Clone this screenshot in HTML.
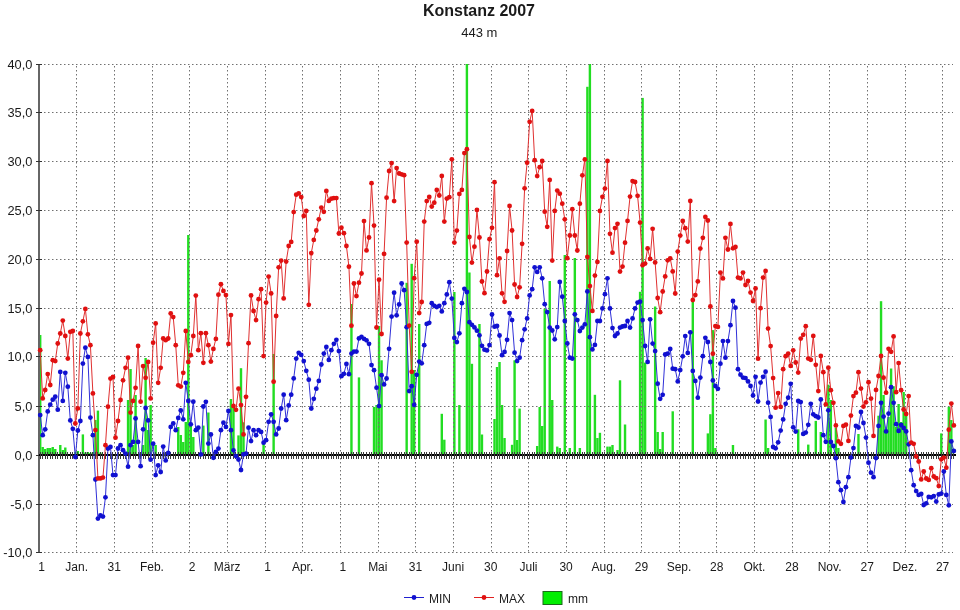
<!DOCTYPE html><html><head><meta charset="utf-8"><title>Konstanz 2007</title><style>html,body{margin:0;padding:0;background:#fff;width:960px;height:610px;overflow:hidden}svg{display:block}text{font-family:"Liberation Sans",Arial,sans-serif;fill:#1a1a1a}</style></head><body><svg width="960" height="610" viewBox="0 0 960 610"><rect width="960" height="610" fill="#fff"/><text x="479" y="16.2" text-anchor="middle" font-weight="bold" font-size="16">Konstanz 2007</text><text x="479.3" y="37.2" text-anchor="middle" font-size="13">443 m</text><g fill="#22dd22" stroke="none"><rect x="39.00" y="335.0" width="2.4" height="120.0"/><rect x="41.51" y="447.0" width="2.4" height="8.0"/><rect x="44.02" y="449.0" width="2.4" height="6.0"/><rect x="46.53" y="448.0" width="2.4" height="7.0"/><rect x="49.04" y="448.0" width="2.4" height="7.0"/><rect x="51.55" y="447.0" width="2.4" height="8.0"/><rect x="54.06" y="449.0" width="2.4" height="6.0"/><rect x="59.08" y="445.0" width="2.4" height="10.0"/><rect x="61.59" y="450.0" width="2.4" height="5.0"/><rect x="64.10" y="447.5" width="2.4" height="7.5"/><rect x="74.14" y="452.0" width="2.4" height="3.0"/><rect x="76.65" y="451.0" width="2.4" height="4.0"/><rect x="81.67" y="434.4" width="2.4" height="20.6"/><rect x="84.18" y="452.5" width="2.4" height="2.5"/><rect x="86.69" y="452.0" width="2.4" height="3.0"/><rect x="89.20" y="453.0" width="2.4" height="2.0"/><rect x="91.71" y="452.0" width="2.4" height="3.0"/><rect x="94.22" y="420.0" width="2.4" height="35.0"/><rect x="96.73" y="410.6" width="2.4" height="44.4"/><rect x="99.24" y="452.5" width="2.4" height="2.5"/><rect x="126.85" y="400.0" width="2.4" height="55.0"/><rect x="129.36" y="369.0" width="2.4" height="86.0"/><rect x="131.87" y="445.0" width="2.4" height="10.0"/><rect x="134.38" y="395.0" width="2.4" height="60.0"/><rect x="141.91" y="445.0" width="2.4" height="10.0"/><rect x="144.42" y="358.0" width="2.4" height="97.0"/><rect x="146.93" y="430.0" width="2.4" height="25.0"/><rect x="149.44" y="405.0" width="2.4" height="50.0"/><rect x="154.46" y="445.0" width="2.4" height="10.0"/><rect x="177.05" y="427.0" width="2.4" height="28.0"/><rect x="179.56" y="435.0" width="2.4" height="20.0"/><rect x="182.07" y="442.0" width="2.4" height="13.0"/><rect x="184.58" y="422.0" width="2.4" height="33.0"/><rect x="187.09" y="235.0" width="2.4" height="220.0"/><rect x="189.60" y="425.6" width="2.4" height="29.4"/><rect x="192.11" y="437.0" width="2.4" height="18.0"/><rect x="202.15" y="425.6" width="2.4" height="29.4"/><rect x="207.17" y="412.5" width="2.4" height="42.5"/><rect x="229.76" y="399.0" width="2.4" height="56.0"/><rect x="232.27" y="406.0" width="2.4" height="49.0"/><rect x="237.29" y="435.4" width="2.4" height="19.6"/><rect x="239.80" y="368.2" width="2.4" height="86.8"/><rect x="242.31" y="422.3" width="2.4" height="32.7"/><rect x="262.39" y="443.6" width="2.4" height="11.4"/><rect x="272.43" y="354.0" width="2.4" height="101.0"/><rect x="350.24" y="304.0" width="2.4" height="151.0"/><rect x="357.77" y="377.4" width="2.4" height="77.6"/><rect x="372.83" y="407.0" width="2.4" height="48.0"/><rect x="375.34" y="405.0" width="2.4" height="50.0"/><rect x="377.85" y="326.0" width="2.4" height="129.0"/><rect x="380.36" y="360.3" width="2.4" height="94.7"/><rect x="405.46" y="282.8" width="2.4" height="172.2"/><rect x="410.48" y="263.8" width="2.4" height="191.2"/><rect x="412.99" y="370.0" width="2.4" height="85.0"/><rect x="418.01" y="324.0" width="2.4" height="131.0"/><rect x="440.60" y="413.8" width="2.4" height="41.2"/><rect x="443.11" y="439.7" width="2.4" height="15.3"/><rect x="453.15" y="292.0" width="2.4" height="163.0"/><rect x="458.17" y="405.0" width="2.4" height="50.0"/><rect x="465.70" y="64.0" width="2.4" height="391.0"/><rect x="468.21" y="272.5" width="2.4" height="182.5"/><rect x="470.72" y="363.8" width="2.4" height="91.2"/><rect x="478.25" y="324.0" width="2.4" height="131.0"/><rect x="480.76" y="434.5" width="2.4" height="20.5"/><rect x="493.31" y="419.0" width="2.4" height="36.0"/><rect x="495.82" y="367.0" width="2.4" height="88.0"/><rect x="498.33" y="362.0" width="2.4" height="93.0"/><rect x="500.84" y="405.0" width="2.4" height="50.0"/><rect x="503.35" y="438.0" width="2.4" height="17.0"/><rect x="510.88" y="444.8" width="2.4" height="10.2"/><rect x="513.39" y="360.3" width="2.4" height="94.7"/><rect x="515.90" y="440.0" width="2.4" height="15.0"/><rect x="518.41" y="408.6" width="2.4" height="46.4"/><rect x="535.98" y="446.0" width="2.4" height="9.0"/><rect x="538.49" y="407.0" width="2.4" height="48.0"/><rect x="541.00" y="426.0" width="2.4" height="29.0"/><rect x="543.51" y="308.6" width="2.4" height="146.4"/><rect x="548.53" y="281.0" width="2.4" height="174.0"/><rect x="551.04" y="400.0" width="2.4" height="55.0"/><rect x="556.06" y="446.6" width="2.4" height="8.4"/><rect x="558.57" y="448.0" width="2.4" height="7.0"/><rect x="563.59" y="255.0" width="2.4" height="200.0"/><rect x="568.61" y="448.0" width="2.4" height="7.0"/><rect x="573.63" y="258.0" width="2.4" height="197.0"/><rect x="578.65" y="448.0" width="2.4" height="7.0"/><rect x="586.18" y="86.8" width="2.4" height="368.2"/><rect x="588.69" y="64.0" width="2.4" height="391.0"/><rect x="593.71" y="394.8" width="2.4" height="60.2"/><rect x="596.22" y="438.0" width="2.4" height="17.0"/><rect x="598.73" y="432.8" width="2.4" height="22.2"/><rect x="606.26" y="446.6" width="2.4" height="8.4"/><rect x="608.77" y="446.6" width="2.4" height="8.4"/><rect x="611.28" y="445.0" width="2.4" height="10.0"/><rect x="616.30" y="450.0" width="2.4" height="5.0"/><rect x="618.81" y="380.3" width="2.4" height="74.7"/><rect x="623.83" y="424.5" width="2.4" height="30.5"/><rect x="638.89" y="291.8" width="2.4" height="163.2"/><rect x="641.40" y="97.9" width="2.4" height="357.1"/><rect x="643.91" y="362.6" width="2.4" height="92.4"/><rect x="653.95" y="306.5" width="2.4" height="148.5"/><rect x="656.46" y="432.0" width="2.4" height="23.0"/><rect x="658.97" y="449.0" width="2.4" height="6.0"/><rect x="661.48" y="432.0" width="2.4" height="23.0"/><rect x="671.52" y="411.3" width="2.4" height="43.7"/><rect x="691.60" y="297.7" width="2.4" height="157.3"/><rect x="706.66" y="433.4" width="2.4" height="21.6"/><rect x="709.17" y="414.2" width="2.4" height="40.8"/><rect x="711.68" y="330.1" width="2.4" height="124.9"/><rect x="714.19" y="448.0" width="2.4" height="7.0"/><rect x="731.76" y="445.0" width="2.4" height="10.0"/><rect x="764.39" y="419.5" width="2.4" height="35.5"/><rect x="766.90" y="448.0" width="2.4" height="7.0"/><rect x="797.02" y="429.3" width="2.4" height="25.7"/><rect x="807.06" y="444.6" width="2.4" height="10.4"/><rect x="814.59" y="420.9" width="2.4" height="34.1"/><rect x="819.61" y="432.0" width="2.4" height="23.0"/><rect x="827.14" y="384.7" width="2.4" height="70.3"/><rect x="829.65" y="400.0" width="2.4" height="55.0"/><rect x="834.67" y="427.9" width="2.4" height="27.1"/><rect x="837.18" y="448.0" width="2.4" height="7.0"/><rect x="857.26" y="434.0" width="2.4" height="21.0"/><rect x="877.34" y="415.7" width="2.4" height="39.3"/><rect x="879.85" y="301.2" width="2.4" height="153.8"/><rect x="882.36" y="395.0" width="2.4" height="60.0"/><rect x="884.87" y="433.0" width="2.4" height="22.0"/><rect x="887.38" y="417.0" width="2.4" height="38.0"/><rect x="889.89" y="368.5" width="2.4" height="86.5"/><rect x="892.40" y="386.2" width="2.4" height="68.8"/><rect x="894.91" y="427.0" width="2.4" height="28.0"/><rect x="897.42" y="404.0" width="2.4" height="51.0"/><rect x="899.93" y="422.0" width="2.4" height="33.0"/><rect x="902.44" y="392.0" width="2.4" height="63.0"/><rect x="904.95" y="412.7" width="2.4" height="42.3"/><rect x="940.09" y="433.4" width="2.4" height="21.6"/><rect x="947.62" y="406.8" width="2.4" height="48.2"/><rect x="950.13" y="420.0" width="2.4" height="35.0"/></g><path d="M39 64.5H953M39 112.5H953M39 161.5H953M39 210.5H953M39 259.5H953M39 308.5H953M39 356.5H953M39 406.5H953M39 504.5H953M39 552.5H953" stroke="#707070" stroke-width="1" stroke-dasharray="1.5 2.5" stroke-dashoffset="3" fill="none"/><path d="M76.5 65V553M114.5 65V553M152.5 65V553M189.5 65V553M227.5 65V553M265.5 65V553M302.5 65V553M340.5 65V553M378.5 65V553M415.5 65V553M453.5 65V553M491.5 65V553M528.5 65V553M566.5 65V553M604.5 65V553M641.5 65V553M679.5 65V553M716.5 65V553M754.5 65V553M792.5 65V553M829.5 65V553M867.5 65V553M905.5 65V553M942.5 65V553" stroke="#707070" stroke-width="1" stroke-dasharray="1.5 2.5" stroke-dashoffset="3" fill="none"/><path d="M39 64V553" stroke="#666" stroke-width="2" fill="none"/><path d="M36 64.5H42M36 112.5H42M36 161.5H42M36 210.5H42M36 259.5H42M36 308.5H42M36 356.5H42M36 406.5H42M36 455.5H42M36 504.5H42M36 552.5H42" stroke="#333" stroke-width="1" fill="none"/><text x="32.4" y="69.0" text-anchor="end" font-size="12.8">40,0</text><text x="32.4" y="117.0" text-anchor="end" font-size="12.8">35,0</text><text x="32.4" y="166.0" text-anchor="end" font-size="12.8">30,0</text><text x="32.4" y="215.0" text-anchor="end" font-size="12.8">25,0</text><text x="32.4" y="264.0" text-anchor="end" font-size="12.8">20,0</text><text x="32.4" y="313.0" text-anchor="end" font-size="12.8">15,0</text><text x="32.4" y="361.0" text-anchor="end" font-size="12.8">10,0</text><text x="32.4" y="411.0" text-anchor="end" font-size="12.8">5,0</text><text x="32.4" y="460.0" text-anchor="end" font-size="12.8">0,0</text><text x="32.4" y="509.0" text-anchor="end" font-size="12.8">-5,0</text><text x="32.4" y="557.0" text-anchor="end" font-size="12.8">-10,0</text><path d="M39 455H956" stroke="#000" stroke-width="2" fill="none"/><path d="M40.5 452V459M42.5 452V459M45.5 452V459M47.5 452V459M50.5 452V459M52.5 452V459M55.5 452V459M57.5 452V459M60.5 452V459M62.5 452V459M65.5 452V459M67.5 452V459M70.5 452V459M72.5 452V459M75.5 452V459M77.5 452V459M80.5 452V459M82.5 452V459M85.5 452V459M87.5 452V459M90.5 452V459M92.5 452V459M95.5 452V459M97.5 452V459M100.5 452V459M102.5 452V459M105.5 452V459M107.5 452V459M110.5 452V459M112.5 452V459M115.5 452V459M118.5 452V459M120.5 452V459M123.5 452V459M125.5 452V459M128.5 452V459M130.5 452V459M133.5 452V459M135.5 452V459M138.5 452V459M140.5 452V459M143.5 452V459M145.5 452V459M148.5 452V459M150.5 452V459M153.5 452V459M155.5 452V459M158.5 452V459M160.5 452V459M163.5 452V459M165.5 452V459M168.5 452V459M170.5 452V459M173.5 452V459M175.5 452V459M178.5 452V459M180.5 452V459M183.5 452V459M185.5 452V459M188.5 452V459M190.5 452V459M193.5 452V459M195.5 452V459M198.5 452V459M200.5 452V459M203.5 452V459M205.5 452V459M208.5 452V459M210.5 452V459M213.5 452V459M215.5 452V459M218.5 452V459M220.5 452V459M223.5 452V459M225.5 452V459M228.5 452V459M230.5 452V459M233.5 452V459M235.5 452V459M238.5 452V459M241.5 452V459M243.5 452V459M246.5 452V459M248.5 452V459M251.5 452V459M253.5 452V459M256.5 452V459M258.5 452V459M261.5 452V459M263.5 452V459M266.5 452V459M268.5 452V459M271.5 452V459M273.5 452V459M276.5 452V459M278.5 452V459M281.5 452V459M283.5 452V459M286.5 452V459M288.5 452V459M291.5 452V459M293.5 452V459M296.5 452V459M298.5 452V459M301.5 452V459M303.5 452V459M306.5 452V459M308.5 452V459M311.5 452V459M313.5 452V459M316.5 452V459M318.5 452V459M321.5 452V459M323.5 452V459M326.5 452V459M328.5 452V459M331.5 452V459M333.5 452V459M336.5 452V459M338.5 452V459M341.5 452V459M343.5 452V459M346.5 452V459M348.5 452V459M351.5 452V459M353.5 452V459M356.5 452V459M358.5 452V459M361.5 452V459M363.5 452V459M366.5 452V459M369.5 452V459M371.5 452V459M374.5 452V459M376.5 452V459M379.5 452V459M381.5 452V459M384.5 452V459M386.5 452V459M389.5 452V459M391.5 452V459M394.5 452V459M396.5 452V459M399.5 452V459M401.5 452V459M404.5 452V459M406.5 452V459M409.5 452V459M411.5 452V459M414.5 452V459M416.5 452V459M419.5 452V459M421.5 452V459M424.5 452V459M426.5 452V459M429.5 452V459M431.5 452V459M434.5 452V459M436.5 452V459M439.5 452V459M441.5 452V459M444.5 452V459M446.5 452V459M449.5 452V459M451.5 452V459M454.5 452V459M456.5 452V459M459.5 452V459M461.5 452V459M464.5 452V459M466.5 452V459M469.5 452V459M471.5 452V459M474.5 452V459M476.5 452V459M479.5 452V459M481.5 452V459M484.5 452V459M486.5 452V459M489.5 452V459M491.5 452V459M494.5 452V459M497.5 452V459M499.5 452V459M502.5 452V459M504.5 452V459M507.5 452V459M509.5 452V459M512.5 452V459M514.5 452V459M517.5 452V459M519.5 452V459M522.5 452V459M524.5 452V459M527.5 452V459M529.5 452V459M532.5 452V459M534.5 452V459M537.5 452V459M539.5 452V459M542.5 452V459M544.5 452V459M547.5 452V459M549.5 452V459M552.5 452V459M554.5 452V459M557.5 452V459M559.5 452V459M562.5 452V459M564.5 452V459M567.5 452V459M569.5 452V459M572.5 452V459M574.5 452V459M577.5 452V459M579.5 452V459M582.5 452V459M584.5 452V459M587.5 452V459M589.5 452V459M592.5 452V459M594.5 452V459M597.5 452V459M599.5 452V459M602.5 452V459M604.5 452V459M607.5 452V459M609.5 452V459M612.5 452V459M614.5 452V459M617.5 452V459M620.5 452V459M622.5 452V459M625.5 452V459M627.5 452V459M630.5 452V459M632.5 452V459M635.5 452V459M637.5 452V459M640.5 452V459M642.5 452V459M645.5 452V459M647.5 452V459M650.5 452V459M652.5 452V459M655.5 452V459M657.5 452V459M660.5 452V459M662.5 452V459M665.5 452V459M667.5 452V459M670.5 452V459M672.5 452V459M675.5 452V459M677.5 452V459M680.5 452V459M682.5 452V459M685.5 452V459M687.5 452V459M690.5 452V459M692.5 452V459M695.5 452V459M697.5 452V459M700.5 452V459M702.5 452V459M705.5 452V459M707.5 452V459M710.5 452V459M712.5 452V459M715.5 452V459M717.5 452V459M720.5 452V459M722.5 452V459M725.5 452V459M727.5 452V459M730.5 452V459M732.5 452V459M735.5 452V459M737.5 452V459M740.5 452V459M743.5 452V459M745.5 452V459M748.5 452V459M750.5 452V459M753.5 452V459M755.5 452V459M758.5 452V459M760.5 452V459M763.5 452V459M765.5 452V459M768.5 452V459M770.5 452V459M773.5 452V459M775.5 452V459M778.5 452V459M780.5 452V459M783.5 452V459M785.5 452V459M788.5 452V459M790.5 452V459M793.5 452V459M795.5 452V459M798.5 452V459M800.5 452V459M803.5 452V459M805.5 452V459M808.5 452V459M810.5 452V459M813.5 452V459M815.5 452V459M818.5 452V459M820.5 452V459M823.5 452V459M825.5 452V459M828.5 452V459M830.5 452V459M833.5 452V459M835.5 452V459M838.5 452V459M840.5 452V459M843.5 452V459M845.5 452V459M848.5 452V459M850.5 452V459M853.5 452V459M855.5 452V459M858.5 452V459M860.5 452V459M863.5 452V459M865.5 452V459M868.5 452V459M871.5 452V459M873.5 452V459M876.5 452V459M878.5 452V459M881.5 452V459M883.5 452V459M886.5 452V459M888.5 452V459M891.5 452V459M893.5 452V459M896.5 452V459M898.5 452V459M901.5 452V459M903.5 452V459M906.5 452V459M908.5 452V459M911.5 452V459M913.5 452V459M916.5 452V459M918.5 452V459M921.5 452V459M923.5 452V459M926.5 452V459M928.5 452V459M931.5 452V459M933.5 452V459M936.5 452V459M938.5 452V459M941.5 452V459M943.5 452V459M946.5 452V459M948.5 452V459M951.5 452V459M953.5 452V459" stroke="#3a3a3a" stroke-width="1" fill="none"/><text x="41.6" y="571" text-anchor="middle" font-size="12">1</text><text x="76.7" y="571" text-anchor="middle" font-size="12">Jan.</text><text x="114.3" y="571" text-anchor="middle" font-size="12">31</text><text x="151.9" y="571" text-anchor="middle" font-size="12">Feb.</text><text x="192.2" y="571" text-anchor="middle" font-size="12">2</text><text x="227.2" y="571" text-anchor="middle" font-size="12">März</text><text x="267.5" y="571" text-anchor="middle" font-size="12">1</text><text x="302.6" y="571" text-anchor="middle" font-size="12">Apr.</text><text x="342.8" y="571" text-anchor="middle" font-size="12">1</text><text x="377.8" y="571" text-anchor="middle" font-size="12">Mai</text><text x="415.5" y="571" text-anchor="middle" font-size="12">31</text><text x="453.1" y="571" text-anchor="middle" font-size="12">Juni</text><text x="490.8" y="571" text-anchor="middle" font-size="12">30</text><text x="528.5" y="571" text-anchor="middle" font-size="12">Juli</text><text x="566.1" y="571" text-anchor="middle" font-size="12">30</text><text x="603.8" y="571" text-anchor="middle" font-size="12">Aug.</text><text x="641.4" y="571" text-anchor="middle" font-size="12">29</text><text x="679.0" y="571" text-anchor="middle" font-size="12">Sep.</text><text x="716.7" y="571" text-anchor="middle" font-size="12">28</text><text x="754.4" y="571" text-anchor="middle" font-size="12">Okt.</text><text x="792.0" y="571" text-anchor="middle" font-size="12">28</text><text x="829.6" y="571" text-anchor="middle" font-size="12">Nov.</text><text x="867.3" y="571" text-anchor="middle" font-size="12">27</text><text x="904.9" y="571" text-anchor="middle" font-size="12">Dez.</text><text x="942.6" y="571" text-anchor="middle" font-size="12">27</text><path d="M40.20 415.1 L42.71 435.2 L45.22 429.3 L47.73 411.4 L50.24 404.7 L52.75 399.7 L55.26 396.7 L57.77 409.7 L60.28 371.9 L62.79 400.9 L65.30 372.8 L67.81 386.7 L70.32 420.4 L72.83 428.8 L75.34 457.0 L77.85 430.5 L80.36 421.0 L82.87 363.6 L85.38 347.7 L87.89 356.9 L90.40 417.6 L92.91 435.2 L95.42 479.5 L97.93 518.6 L100.44 515.5 L102.95 516.6 L105.46 497.3 L107.97 448.5 L110.48 446.9 L112.99 475.1 L115.50 475.1 L118.01 448.5 L120.52 445.2 L123.03 450.2 L125.54 453.6 L128.05 466.7 L130.56 445.2 L133.07 441.9 L135.58 418.4 L138.09 441.9 L140.60 466.2 L143.11 429.3 L145.62 408.0 L148.13 420.4 L150.64 459.7 L153.15 443.7 L155.66 475.1 L158.17 465.3 L160.68 472.0 L163.19 446.6 L165.70 460.4 L168.21 453.0 L170.72 426.9 L173.23 423.4 L175.74 430.2 L178.25 417.9 L180.76 410.5 L183.27 419.3 L185.78 382.8 L188.29 400.9 L190.80 424.3 L193.31 401.7 L195.82 430.2 L198.33 427.7 L200.84 454.4 L203.35 406.5 L205.86 401.8 L208.37 443.6 L210.88 434.4 L213.39 457.8 L215.90 451.9 L218.41 448.6 L220.92 430.2 L223.43 422.7 L225.94 426.9 L228.45 411.0 L230.96 430.2 L233.47 450.3 L235.98 456.1 L238.49 459.5 L241.00 470.0 L243.51 454.4 L246.02 453.6 L248.53 427.7 L251.04 441.1 L253.55 430.2 L256.06 435.2 L258.57 430.2 L261.08 431.9 L263.59 442.7 L266.10 440.2 L268.61 421.8 L271.12 414.3 L273.63 421.8 L276.14 434.4 L278.65 428.5 L281.16 408.5 L283.67 394.7 L286.18 420.2 L288.69 405.4 L291.20 394.7 L293.71 378.4 L296.22 358.6 L298.73 352.8 L301.24 354.9 L303.75 361.1 L306.26 370.8 L308.77 379.7 L311.28 408.5 L313.79 398.8 L316.30 388.7 L318.81 380.9 L321.32 364.5 L323.83 353.6 L326.34 346.9 L328.85 359.9 L331.36 350.2 L333.87 343.8 L336.38 339.8 L338.89 351.1 L341.40 376.2 L343.91 373.8 L346.42 363.9 L348.93 374.2 L351.44 353.6 L353.95 351.6 L356.46 351.6 L358.97 338.4 L361.48 336.9 L363.99 338.8 L366.50 340.3 L369.01 343.8 L371.52 365.1 L374.03 370.2 L376.54 387.7 L379.05 406.1 L381.56 375.2 L384.07 384.4 L386.58 378.5 L389.09 348.8 L391.60 316.6 L394.11 292.7 L396.62 315.3 L399.13 304.4 L401.64 283.5 L404.15 290.2 L406.66 327.2 L409.17 391.1 L411.68 386.2 L414.19 404.8 L416.70 374.8 L419.21 361.6 L421.72 363.3 L424.23 345.2 L426.74 323.9 L429.25 322.8 L431.76 303.2 L434.27 305.8 L436.78 307.1 L439.29 305.8 L441.80 311.4 L444.31 303.2 L446.82 294.4 L449.33 282.2 L451.84 298.6 L454.35 337.9 L456.86 342.1 L459.37 333.3 L461.88 303.2 L464.39 288.8 L466.90 292.0 L469.41 322.2 L471.92 324.8 L474.43 327.4 L476.94 330.7 L479.45 335.3 L481.96 345.8 L484.47 349.7 L486.98 350.4 L489.49 345.1 L492.00 314.5 L494.51 326.7 L497.02 326.0 L499.53 335.5 L502.04 355.2 L504.55 351.9 L507.06 339.8 L509.57 313.1 L512.08 320.1 L514.59 352.7 L517.10 361.1 L519.61 357.7 L522.12 340.2 L524.63 329.3 L527.14 318.4 L529.65 295.4 L532.16 289.2 L534.67 267.3 L537.18 271.9 L539.69 267.3 L542.20 278.3 L544.71 304.2 L547.22 312.1 L549.73 327.6 L552.24 330.5 L554.75 339.3 L557.26 327.1 L559.77 282.0 L562.28 296.7 L564.79 321.0 L567.30 343.5 L569.81 357.7 L572.32 358.6 L574.83 314.3 L577.34 320.1 L579.85 331.0 L582.36 327.6 L584.87 324.3 L587.38 291.4 L589.89 337.2 L592.40 349.4 L594.91 344.9 L597.42 321.0 L599.93 321.0 L602.44 308.4 L604.95 294.2 L607.46 278.3 L609.97 308.4 L612.48 328.1 L614.99 336.0 L617.50 333.5 L620.01 327.6 L622.52 326.5 L625.03 326.0 L627.54 321.0 L630.05 327.6 L632.56 318.4 L635.07 308.4 L637.58 302.6 L640.09 301.7 L642.60 320.1 L645.11 346.0 L647.62 361.9 L650.13 319.3 L652.64 343.6 L655.15 351.1 L657.66 383.7 L660.17 398.8 L662.68 394.8 L665.19 354.5 L667.70 353.7 L670.21 349.0 L672.72 368.7 L675.23 369.2 L677.74 381.4 L680.25 370.1 L682.76 356.3 L685.27 336.1 L687.78 352.9 L690.29 332.3 L692.80 370.9 L695.31 380.9 L697.82 397.7 L700.33 377.6 L702.84 356.2 L705.35 337.8 L707.86 342.0 L710.37 362.0 L712.88 380.4 L715.39 386.0 L717.90 388.8 L720.41 363.7 L722.92 341.1 L725.43 357.7 L727.94 341.1 L730.45 325.2 L732.96 301.0 L735.47 307.7 L737.98 369.2 L740.49 374.7 L743.00 377.6 L745.51 378.1 L748.02 381.4 L750.53 386.0 L753.04 395.5 L755.55 376.8 L758.06 401.5 L760.57 382.6 L763.08 376.8 L765.59 371.7 L768.10 402.7 L770.61 416.9 L773.12 447.0 L775.63 448.3 L778.14 442.3 L780.65 430.6 L783.16 419.4 L785.67 403.8 L788.18 397.7 L790.69 383.8 L793.20 427.3 L795.71 431.6 L798.22 401.0 L800.73 402.1 L803.24 433.9 L805.75 432.6 L808.26 424.8 L810.77 403.8 L813.28 414.3 L815.79 416.2 L818.30 417.5 L820.81 399.4 L823.32 435.2 L825.83 441.8 L828.34 410.3 L830.85 442.0 L833.36 446.0 L835.87 458.2 L838.38 482.2 L840.89 490.2 L843.40 502.0 L845.91 487.2 L848.42 477.2 L850.93 457.6 L853.44 448.1 L855.95 425.9 L858.46 427.5 L860.97 412.0 L863.48 423.0 L865.99 437.6 L868.50 462.7 L871.01 472.7 L873.52 477.2 L876.03 458.1 L878.54 425.9 L881.05 402.8 L883.56 416.6 L886.07 431.4 L888.58 413.6 L891.09 387.2 L893.60 402.8 L896.11 424.2 L898.62 430.9 L901.13 425.0 L903.64 428.0 L906.15 431.4 L908.66 444.3 L911.17 470.2 L913.68 485.2 L916.19 491.1 L918.70 494.9 L921.21 493.9 L923.72 505.0 L926.23 503.3 L928.74 496.9 L931.25 497.3 L933.76 496.1 L936.27 501.6 L938.78 494.4 L941.29 493.6 L943.80 471.5 L946.31 494.9 L948.82 505.3 L951.33 441.4 L953.84 451.0" stroke="#3030d8" stroke-width="1" fill="none"/><g fill="#1010d0"><circle cx="40.20" cy="415.1" r="2.4"/><circle cx="42.71" cy="435.2" r="2.4"/><circle cx="45.22" cy="429.3" r="2.4"/><circle cx="47.73" cy="411.4" r="2.4"/><circle cx="50.24" cy="404.7" r="2.4"/><circle cx="52.75" cy="399.7" r="2.4"/><circle cx="55.26" cy="396.7" r="2.4"/><circle cx="57.77" cy="409.7" r="2.4"/><circle cx="60.28" cy="371.9" r="2.4"/><circle cx="62.79" cy="400.9" r="2.4"/><circle cx="65.30" cy="372.8" r="2.4"/><circle cx="67.81" cy="386.7" r="2.4"/><circle cx="70.32" cy="420.4" r="2.4"/><circle cx="72.83" cy="428.8" r="2.4"/><circle cx="75.34" cy="457.0" r="2.4"/><circle cx="77.85" cy="430.5" r="2.4"/><circle cx="80.36" cy="421.0" r="2.4"/><circle cx="82.87" cy="363.6" r="2.4"/><circle cx="85.38" cy="347.7" r="2.4"/><circle cx="87.89" cy="356.9" r="2.4"/><circle cx="90.40" cy="417.6" r="2.4"/><circle cx="92.91" cy="435.2" r="2.4"/><circle cx="95.42" cy="479.5" r="2.4"/><circle cx="97.93" cy="518.6" r="2.4"/><circle cx="100.44" cy="515.5" r="2.4"/><circle cx="102.95" cy="516.6" r="2.4"/><circle cx="105.46" cy="497.3" r="2.4"/><circle cx="107.97" cy="448.5" r="2.4"/><circle cx="110.48" cy="446.9" r="2.4"/><circle cx="112.99" cy="475.1" r="2.4"/><circle cx="115.50" cy="475.1" r="2.4"/><circle cx="118.01" cy="448.5" r="2.4"/><circle cx="120.52" cy="445.2" r="2.4"/><circle cx="123.03" cy="450.2" r="2.4"/><circle cx="125.54" cy="453.6" r="2.4"/><circle cx="128.05" cy="466.7" r="2.4"/><circle cx="130.56" cy="445.2" r="2.4"/><circle cx="133.07" cy="441.9" r="2.4"/><circle cx="135.58" cy="418.4" r="2.4"/><circle cx="138.09" cy="441.9" r="2.4"/><circle cx="140.60" cy="466.2" r="2.4"/><circle cx="143.11" cy="429.3" r="2.4"/><circle cx="145.62" cy="408.0" r="2.4"/><circle cx="148.13" cy="420.4" r="2.4"/><circle cx="150.64" cy="459.7" r="2.4"/><circle cx="153.15" cy="443.7" r="2.4"/><circle cx="155.66" cy="475.1" r="2.4"/><circle cx="158.17" cy="465.3" r="2.4"/><circle cx="160.68" cy="472.0" r="2.4"/><circle cx="163.19" cy="446.6" r="2.4"/><circle cx="165.70" cy="460.4" r="2.4"/><circle cx="168.21" cy="453.0" r="2.4"/><circle cx="170.72" cy="426.9" r="2.4"/><circle cx="173.23" cy="423.4" r="2.4"/><circle cx="175.74" cy="430.2" r="2.4"/><circle cx="178.25" cy="417.9" r="2.4"/><circle cx="180.76" cy="410.5" r="2.4"/><circle cx="183.27" cy="419.3" r="2.4"/><circle cx="185.78" cy="382.8" r="2.4"/><circle cx="188.29" cy="400.9" r="2.4"/><circle cx="190.80" cy="424.3" r="2.4"/><circle cx="193.31" cy="401.7" r="2.4"/><circle cx="195.82" cy="430.2" r="2.4"/><circle cx="198.33" cy="427.7" r="2.4"/><circle cx="200.84" cy="454.4" r="2.4"/><circle cx="203.35" cy="406.5" r="2.4"/><circle cx="205.86" cy="401.8" r="2.4"/><circle cx="208.37" cy="443.6" r="2.4"/><circle cx="210.88" cy="434.4" r="2.4"/><circle cx="213.39" cy="457.8" r="2.4"/><circle cx="215.90" cy="451.9" r="2.4"/><circle cx="218.41" cy="448.6" r="2.4"/><circle cx="220.92" cy="430.2" r="2.4"/><circle cx="223.43" cy="422.7" r="2.4"/><circle cx="225.94" cy="426.9" r="2.4"/><circle cx="228.45" cy="411.0" r="2.4"/><circle cx="230.96" cy="430.2" r="2.4"/><circle cx="233.47" cy="450.3" r="2.4"/><circle cx="235.98" cy="456.1" r="2.4"/><circle cx="238.49" cy="459.5" r="2.4"/><circle cx="241.00" cy="470.0" r="2.4"/><circle cx="243.51" cy="454.4" r="2.4"/><circle cx="246.02" cy="453.6" r="2.4"/><circle cx="248.53" cy="427.7" r="2.4"/><circle cx="251.04" cy="441.1" r="2.4"/><circle cx="253.55" cy="430.2" r="2.4"/><circle cx="256.06" cy="435.2" r="2.4"/><circle cx="258.57" cy="430.2" r="2.4"/><circle cx="261.08" cy="431.9" r="2.4"/><circle cx="263.59" cy="442.7" r="2.4"/><circle cx="266.10" cy="440.2" r="2.4"/><circle cx="268.61" cy="421.8" r="2.4"/><circle cx="271.12" cy="414.3" r="2.4"/><circle cx="273.63" cy="421.8" r="2.4"/><circle cx="276.14" cy="434.4" r="2.4"/><circle cx="278.65" cy="428.5" r="2.4"/><circle cx="281.16" cy="408.5" r="2.4"/><circle cx="283.67" cy="394.7" r="2.4"/><circle cx="286.18" cy="420.2" r="2.4"/><circle cx="288.69" cy="405.4" r="2.4"/><circle cx="291.20" cy="394.7" r="2.4"/><circle cx="293.71" cy="378.4" r="2.4"/><circle cx="296.22" cy="358.6" r="2.4"/><circle cx="298.73" cy="352.8" r="2.4"/><circle cx="301.24" cy="354.9" r="2.4"/><circle cx="303.75" cy="361.1" r="2.4"/><circle cx="306.26" cy="370.8" r="2.4"/><circle cx="308.77" cy="379.7" r="2.4"/><circle cx="311.28" cy="408.5" r="2.4"/><circle cx="313.79" cy="398.8" r="2.4"/><circle cx="316.30" cy="388.7" r="2.4"/><circle cx="318.81" cy="380.9" r="2.4"/><circle cx="321.32" cy="364.5" r="2.4"/><circle cx="323.83" cy="353.6" r="2.4"/><circle cx="326.34" cy="346.9" r="2.4"/><circle cx="328.85" cy="359.9" r="2.4"/><circle cx="331.36" cy="350.2" r="2.4"/><circle cx="333.87" cy="343.8" r="2.4"/><circle cx="336.38" cy="339.8" r="2.4"/><circle cx="338.89" cy="351.1" r="2.4"/><circle cx="341.40" cy="376.2" r="2.4"/><circle cx="343.91" cy="373.8" r="2.4"/><circle cx="346.42" cy="363.9" r="2.4"/><circle cx="348.93" cy="374.2" r="2.4"/><circle cx="351.44" cy="353.6" r="2.4"/><circle cx="353.95" cy="351.6" r="2.4"/><circle cx="356.46" cy="351.6" r="2.4"/><circle cx="358.97" cy="338.4" r="2.4"/><circle cx="361.48" cy="336.9" r="2.4"/><circle cx="363.99" cy="338.8" r="2.4"/><circle cx="366.50" cy="340.3" r="2.4"/><circle cx="369.01" cy="343.8" r="2.4"/><circle cx="371.52" cy="365.1" r="2.4"/><circle cx="374.03" cy="370.2" r="2.4"/><circle cx="376.54" cy="387.7" r="2.4"/><circle cx="379.05" cy="406.1" r="2.4"/><circle cx="381.56" cy="375.2" r="2.4"/><circle cx="384.07" cy="384.4" r="2.4"/><circle cx="386.58" cy="378.5" r="2.4"/><circle cx="389.09" cy="348.8" r="2.4"/><circle cx="391.60" cy="316.6" r="2.4"/><circle cx="394.11" cy="292.7" r="2.4"/><circle cx="396.62" cy="315.3" r="2.4"/><circle cx="399.13" cy="304.4" r="2.4"/><circle cx="401.64" cy="283.5" r="2.4"/><circle cx="404.15" cy="290.2" r="2.4"/><circle cx="406.66" cy="327.2" r="2.4"/><circle cx="409.17" cy="391.1" r="2.4"/><circle cx="411.68" cy="386.2" r="2.4"/><circle cx="414.19" cy="404.8" r="2.4"/><circle cx="416.70" cy="374.8" r="2.4"/><circle cx="419.21" cy="361.6" r="2.4"/><circle cx="421.72" cy="363.3" r="2.4"/><circle cx="424.23" cy="345.2" r="2.4"/><circle cx="426.74" cy="323.9" r="2.4"/><circle cx="429.25" cy="322.8" r="2.4"/><circle cx="431.76" cy="303.2" r="2.4"/><circle cx="434.27" cy="305.8" r="2.4"/><circle cx="436.78" cy="307.1" r="2.4"/><circle cx="439.29" cy="305.8" r="2.4"/><circle cx="441.80" cy="311.4" r="2.4"/><circle cx="444.31" cy="303.2" r="2.4"/><circle cx="446.82" cy="294.4" r="2.4"/><circle cx="449.33" cy="282.2" r="2.4"/><circle cx="451.84" cy="298.6" r="2.4"/><circle cx="454.35" cy="337.9" r="2.4"/><circle cx="456.86" cy="342.1" r="2.4"/><circle cx="459.37" cy="333.3" r="2.4"/><circle cx="461.88" cy="303.2" r="2.4"/><circle cx="464.39" cy="288.8" r="2.4"/><circle cx="466.90" cy="292.0" r="2.4"/><circle cx="469.41" cy="322.2" r="2.4"/><circle cx="471.92" cy="324.8" r="2.4"/><circle cx="474.43" cy="327.4" r="2.4"/><circle cx="476.94" cy="330.7" r="2.4"/><circle cx="479.45" cy="335.3" r="2.4"/><circle cx="481.96" cy="345.8" r="2.4"/><circle cx="484.47" cy="349.7" r="2.4"/><circle cx="486.98" cy="350.4" r="2.4"/><circle cx="489.49" cy="345.1" r="2.4"/><circle cx="492.00" cy="314.5" r="2.4"/><circle cx="494.51" cy="326.7" r="2.4"/><circle cx="497.02" cy="326.0" r="2.4"/><circle cx="499.53" cy="335.5" r="2.4"/><circle cx="502.04" cy="355.2" r="2.4"/><circle cx="504.55" cy="351.9" r="2.4"/><circle cx="507.06" cy="339.8" r="2.4"/><circle cx="509.57" cy="313.1" r="2.4"/><circle cx="512.08" cy="320.1" r="2.4"/><circle cx="514.59" cy="352.7" r="2.4"/><circle cx="517.10" cy="361.1" r="2.4"/><circle cx="519.61" cy="357.7" r="2.4"/><circle cx="522.12" cy="340.2" r="2.4"/><circle cx="524.63" cy="329.3" r="2.4"/><circle cx="527.14" cy="318.4" r="2.4"/><circle cx="529.65" cy="295.4" r="2.4"/><circle cx="532.16" cy="289.2" r="2.4"/><circle cx="534.67" cy="267.3" r="2.4"/><circle cx="537.18" cy="271.9" r="2.4"/><circle cx="539.69" cy="267.3" r="2.4"/><circle cx="542.20" cy="278.3" r="2.4"/><circle cx="544.71" cy="304.2" r="2.4"/><circle cx="547.22" cy="312.1" r="2.4"/><circle cx="549.73" cy="327.6" r="2.4"/><circle cx="552.24" cy="330.5" r="2.4"/><circle cx="554.75" cy="339.3" r="2.4"/><circle cx="557.26" cy="327.1" r="2.4"/><circle cx="559.77" cy="282.0" r="2.4"/><circle cx="562.28" cy="296.7" r="2.4"/><circle cx="564.79" cy="321.0" r="2.4"/><circle cx="567.30" cy="343.5" r="2.4"/><circle cx="569.81" cy="357.7" r="2.4"/><circle cx="572.32" cy="358.6" r="2.4"/><circle cx="574.83" cy="314.3" r="2.4"/><circle cx="577.34" cy="320.1" r="2.4"/><circle cx="579.85" cy="331.0" r="2.4"/><circle cx="582.36" cy="327.6" r="2.4"/><circle cx="584.87" cy="324.3" r="2.4"/><circle cx="587.38" cy="291.4" r="2.4"/><circle cx="589.89" cy="337.2" r="2.4"/><circle cx="592.40" cy="349.4" r="2.4"/><circle cx="594.91" cy="344.9" r="2.4"/><circle cx="597.42" cy="321.0" r="2.4"/><circle cx="599.93" cy="321.0" r="2.4"/><circle cx="602.44" cy="308.4" r="2.4"/><circle cx="604.95" cy="294.2" r="2.4"/><circle cx="607.46" cy="278.3" r="2.4"/><circle cx="609.97" cy="308.4" r="2.4"/><circle cx="612.48" cy="328.1" r="2.4"/><circle cx="614.99" cy="336.0" r="2.4"/><circle cx="617.50" cy="333.5" r="2.4"/><circle cx="620.01" cy="327.6" r="2.4"/><circle cx="622.52" cy="326.5" r="2.4"/><circle cx="625.03" cy="326.0" r="2.4"/><circle cx="627.54" cy="321.0" r="2.4"/><circle cx="630.05" cy="327.6" r="2.4"/><circle cx="632.56" cy="318.4" r="2.4"/><circle cx="635.07" cy="308.4" r="2.4"/><circle cx="637.58" cy="302.6" r="2.4"/><circle cx="640.09" cy="301.7" r="2.4"/><circle cx="642.60" cy="320.1" r="2.4"/><circle cx="645.11" cy="346.0" r="2.4"/><circle cx="647.62" cy="361.9" r="2.4"/><circle cx="650.13" cy="319.3" r="2.4"/><circle cx="652.64" cy="343.6" r="2.4"/><circle cx="655.15" cy="351.1" r="2.4"/><circle cx="657.66" cy="383.7" r="2.4"/><circle cx="660.17" cy="398.8" r="2.4"/><circle cx="662.68" cy="394.8" r="2.4"/><circle cx="665.19" cy="354.5" r="2.4"/><circle cx="667.70" cy="353.7" r="2.4"/><circle cx="670.21" cy="349.0" r="2.4"/><circle cx="672.72" cy="368.7" r="2.4"/><circle cx="675.23" cy="369.2" r="2.4"/><circle cx="677.74" cy="381.4" r="2.4"/><circle cx="680.25" cy="370.1" r="2.4"/><circle cx="682.76" cy="356.3" r="2.4"/><circle cx="685.27" cy="336.1" r="2.4"/><circle cx="687.78" cy="352.9" r="2.4"/><circle cx="690.29" cy="332.3" r="2.4"/><circle cx="692.80" cy="370.9" r="2.4"/><circle cx="695.31" cy="380.9" r="2.4"/><circle cx="697.82" cy="397.7" r="2.4"/><circle cx="700.33" cy="377.6" r="2.4"/><circle cx="702.84" cy="356.2" r="2.4"/><circle cx="705.35" cy="337.8" r="2.4"/><circle cx="707.86" cy="342.0" r="2.4"/><circle cx="710.37" cy="362.0" r="2.4"/><circle cx="712.88" cy="380.4" r="2.4"/><circle cx="715.39" cy="386.0" r="2.4"/><circle cx="717.90" cy="388.8" r="2.4"/><circle cx="720.41" cy="363.7" r="2.4"/><circle cx="722.92" cy="341.1" r="2.4"/><circle cx="725.43" cy="357.7" r="2.4"/><circle cx="727.94" cy="341.1" r="2.4"/><circle cx="730.45" cy="325.2" r="2.4"/><circle cx="732.96" cy="301.0" r="2.4"/><circle cx="735.47" cy="307.7" r="2.4"/><circle cx="737.98" cy="369.2" r="2.4"/><circle cx="740.49" cy="374.7" r="2.4"/><circle cx="743.00" cy="377.6" r="2.4"/><circle cx="745.51" cy="378.1" r="2.4"/><circle cx="748.02" cy="381.4" r="2.4"/><circle cx="750.53" cy="386.0" r="2.4"/><circle cx="753.04" cy="395.5" r="2.4"/><circle cx="755.55" cy="376.8" r="2.4"/><circle cx="758.06" cy="401.5" r="2.4"/><circle cx="760.57" cy="382.6" r="2.4"/><circle cx="763.08" cy="376.8" r="2.4"/><circle cx="765.59" cy="371.7" r="2.4"/><circle cx="768.10" cy="402.7" r="2.4"/><circle cx="770.61" cy="416.9" r="2.4"/><circle cx="773.12" cy="447.0" r="2.4"/><circle cx="775.63" cy="448.3" r="2.4"/><circle cx="778.14" cy="442.3" r="2.4"/><circle cx="780.65" cy="430.6" r="2.4"/><circle cx="783.16" cy="419.4" r="2.4"/><circle cx="785.67" cy="403.8" r="2.4"/><circle cx="788.18" cy="397.7" r="2.4"/><circle cx="790.69" cy="383.8" r="2.4"/><circle cx="793.20" cy="427.3" r="2.4"/><circle cx="795.71" cy="431.6" r="2.4"/><circle cx="798.22" cy="401.0" r="2.4"/><circle cx="800.73" cy="402.1" r="2.4"/><circle cx="803.24" cy="433.9" r="2.4"/><circle cx="805.75" cy="432.6" r="2.4"/><circle cx="808.26" cy="424.8" r="2.4"/><circle cx="810.77" cy="403.8" r="2.4"/><circle cx="813.28" cy="414.3" r="2.4"/><circle cx="815.79" cy="416.2" r="2.4"/><circle cx="818.30" cy="417.5" r="2.4"/><circle cx="820.81" cy="399.4" r="2.4"/><circle cx="823.32" cy="435.2" r="2.4"/><circle cx="825.83" cy="441.8" r="2.4"/><circle cx="828.34" cy="410.3" r="2.4"/><circle cx="830.85" cy="442.0" r="2.4"/><circle cx="833.36" cy="446.0" r="2.4"/><circle cx="835.87" cy="458.2" r="2.4"/><circle cx="838.38" cy="482.2" r="2.4"/><circle cx="840.89" cy="490.2" r="2.4"/><circle cx="843.40" cy="502.0" r="2.4"/><circle cx="845.91" cy="487.2" r="2.4"/><circle cx="848.42" cy="477.2" r="2.4"/><circle cx="850.93" cy="457.6" r="2.4"/><circle cx="853.44" cy="448.1" r="2.4"/><circle cx="855.95" cy="425.9" r="2.4"/><circle cx="858.46" cy="427.5" r="2.4"/><circle cx="860.97" cy="412.0" r="2.4"/><circle cx="863.48" cy="423.0" r="2.4"/><circle cx="865.99" cy="437.6" r="2.4"/><circle cx="868.50" cy="462.7" r="2.4"/><circle cx="871.01" cy="472.7" r="2.4"/><circle cx="873.52" cy="477.2" r="2.4"/><circle cx="876.03" cy="458.1" r="2.4"/><circle cx="878.54" cy="425.9" r="2.4"/><circle cx="881.05" cy="402.8" r="2.4"/><circle cx="883.56" cy="416.6" r="2.4"/><circle cx="886.07" cy="431.4" r="2.4"/><circle cx="888.58" cy="413.6" r="2.4"/><circle cx="891.09" cy="387.2" r="2.4"/><circle cx="893.60" cy="402.8" r="2.4"/><circle cx="896.11" cy="424.2" r="2.4"/><circle cx="898.62" cy="430.9" r="2.4"/><circle cx="901.13" cy="425.0" r="2.4"/><circle cx="903.64" cy="428.0" r="2.4"/><circle cx="906.15" cy="431.4" r="2.4"/><circle cx="908.66" cy="444.3" r="2.4"/><circle cx="911.17" cy="470.2" r="2.4"/><circle cx="913.68" cy="485.2" r="2.4"/><circle cx="916.19" cy="491.1" r="2.4"/><circle cx="918.70" cy="494.9" r="2.4"/><circle cx="921.21" cy="493.9" r="2.4"/><circle cx="923.72" cy="505.0" r="2.4"/><circle cx="926.23" cy="503.3" r="2.4"/><circle cx="928.74" cy="496.9" r="2.4"/><circle cx="931.25" cy="497.3" r="2.4"/><circle cx="933.76" cy="496.1" r="2.4"/><circle cx="936.27" cy="501.6" r="2.4"/><circle cx="938.78" cy="494.4" r="2.4"/><circle cx="941.29" cy="493.6" r="2.4"/><circle cx="943.80" cy="471.5" r="2.4"/><circle cx="946.31" cy="494.9" r="2.4"/><circle cx="948.82" cy="505.3" r="2.4"/><circle cx="951.33" cy="441.4" r="2.4"/><circle cx="953.84" cy="451.0" r="2.4"/></g><path d="M40.20 350.2 L42.71 398.4 L45.22 390.0 L47.73 374.1 L50.24 385.0 L52.75 360.2 L55.26 361.1 L57.77 343.5 L60.28 333.5 L62.79 320.6 L65.30 336.0 L67.81 358.6 L70.32 331.8 L72.83 331.0 L75.34 423.5 L77.85 408.4 L80.36 333.5 L82.87 321.3 L85.38 308.9 L87.89 334.3 L90.40 345.2 L92.91 393.4 L95.42 430.1 L97.93 478.4 L100.44 478.4 L102.95 477.6 L105.46 445.2 L107.97 406.7 L110.48 378.6 L112.99 377.0 L115.50 437.7 L118.01 421.0 L120.52 400.0 L123.03 380.3 L125.54 367.8 L128.05 357.7 L130.56 412.6 L133.07 400.9 L135.58 387.8 L138.09 346.0 L140.60 401.7 L143.11 366.1 L145.62 377.8 L148.13 361.9 L150.64 398.4 L153.15 342.7 L155.66 323.4 L158.17 382.8 L160.68 367.8 L163.19 338.5 L165.70 340.2 L168.21 338.5 L170.72 313.4 L173.23 317.1 L175.74 345.2 L178.25 385.3 L180.76 386.6 L183.27 372.8 L185.78 331.0 L188.29 361.9 L190.80 355.2 L193.31 336.0 L195.82 295.6 L198.33 350.2 L200.84 333.2 L203.35 362.8 L205.86 333.2 L208.37 345.2 L210.88 361.6 L213.39 348.9 L215.90 338.9 L218.41 294.7 L220.92 284.2 L223.43 290.9 L225.94 295.1 L228.45 343.9 L230.96 315.1 L233.47 406.0 L235.98 409.8 L238.49 388.7 L241.00 405.1 L243.51 434.4 L246.02 396.8 L248.53 343.2 L251.04 295.4 L253.55 311.0 L256.06 320.1 L258.57 299.2 L261.08 289.2 L263.59 356.1 L266.10 302.6 L268.61 276.6 L271.12 293.4 L273.63 381.7 L276.14 316.0 L278.65 267.3 L281.16 260.6 L283.67 298.4 L286.18 261.6 L288.69 246.0 L291.20 241.9 L293.71 212.1 L296.22 194.7 L298.73 193.4 L301.24 197.1 L303.75 216.0 L306.26 210.9 L308.77 304.8 L311.28 253.1 L313.79 239.9 L316.30 230.5 L318.81 219.3 L321.32 207.6 L323.83 211.8 L326.34 190.9 L328.85 200.9 L331.36 198.7 L333.87 198.1 L336.38 198.1 L338.89 233.5 L341.40 227.7 L343.91 233.2 L346.42 246.0 L348.93 266.7 L351.44 325.7 L353.95 283.5 L356.46 296.1 L358.97 282.7 L361.48 273.5 L363.99 221.1 L366.50 250.4 L369.01 237.5 L371.52 183.2 L374.03 225.6 L376.54 327.5 L379.05 279.7 L381.56 334.0 L384.07 253.8 L386.58 197.7 L389.09 171.0 L391.60 163.1 L394.11 201.1 L396.62 168.1 L399.13 173.5 L401.64 174.3 L404.15 175.2 L406.66 242.6 L409.17 325.6 L411.68 371.8 L414.19 278.2 L416.70 241.7 L419.21 313.1 L421.72 302.0 L424.23 221.6 L426.74 201.1 L429.25 196.9 L431.76 206.6 L434.27 202.7 L436.78 189.9 L439.29 195.5 L441.80 176.0 L444.31 221.6 L446.82 198.6 L449.33 197.2 L451.84 159.3 L454.35 242.6 L456.86 230.6 L459.37 193.9 L461.88 189.9 L464.39 153.1 L466.90 149.2 L469.41 237.0 L471.92 262.6 L474.43 246.7 L476.94 209.9 L479.45 237.5 L481.96 281.5 L484.47 293.2 L486.98 271.5 L489.49 239.2 L492.00 227.8 L494.51 182.2 L497.02 275.2 L499.53 258.3 L502.04 293.3 L504.55 301.8 L507.06 251.0 L509.57 205.9 L512.08 230.5 L514.59 284.5 L517.10 297.0 L519.61 287.3 L522.12 243.8 L524.63 188.3 L527.14 162.7 L529.65 121.8 L532.16 110.9 L534.67 160.2 L537.18 176.1 L539.69 167.2 L542.20 161.0 L544.71 211.7 L547.22 226.8 L549.73 179.9 L552.24 260.6 L554.75 210.9 L557.26 190.6 L559.77 193.7 L562.28 203.7 L564.79 219.3 L567.30 258.2 L569.81 235.5 L572.32 209.2 L574.83 235.5 L577.34 250.5 L579.85 203.7 L582.36 175.3 L584.87 159.4 L587.38 256.9 L589.89 286.1 L592.40 310.9 L594.91 275.6 L597.42 261.9 L599.93 210.9 L602.44 196.8 L604.95 188.6 L607.46 161.0 L609.97 233.8 L612.48 252.7 L614.99 228.1 L617.50 223.8 L620.01 271.6 L622.52 266.6 L625.03 242.7 L627.54 220.9 L630.05 196.6 L632.56 181.1 L635.07 182.0 L637.58 195.8 L640.09 222.6 L642.60 265.2 L645.11 263.6 L647.62 248.5 L650.13 258.9 L652.64 228.8 L655.15 262.4 L657.66 298.0 L660.17 312.2 L662.68 291.5 L665.19 276.4 L667.70 260.3 L670.21 258.3 L672.72 271.4 L675.23 293.5 L677.74 251.6 L680.25 235.6 L682.76 221.0 L685.27 228.2 L687.78 241.6 L690.29 201.0 L692.80 300.1 L695.31 295.1 L697.82 281.4 L700.33 248.6 L702.84 237.8 L705.35 216.9 L707.86 220.5 L710.37 306.5 L712.88 353.7 L715.39 326.1 L717.90 326.9 L720.41 272.6 L722.92 278.4 L725.43 237.8 L727.94 249.5 L730.45 223.9 L732.96 248.3 L735.47 247.0 L737.98 277.6 L740.49 278.4 L743.00 272.6 L745.51 285.0 L748.02 281.0 L750.53 292.6 L753.04 301.0 L755.55 288.4 L758.06 358.7 L760.57 308.2 L763.08 277.6 L765.59 270.9 L768.10 328.6 L770.61 346.1 L773.12 378.1 L775.63 407.7 L778.14 393.1 L780.65 406.9 L783.16 369.2 L785.67 356.2 L788.18 353.7 L790.69 365.9 L793.20 350.3 L795.71 362.5 L798.22 372.6 L800.73 338.6 L803.24 334.8 L805.75 326.2 L808.26 358.6 L810.77 359.8 L813.28 335.9 L815.79 364.8 L818.30 391.1 L820.81 356.0 L823.32 372.2 L825.83 404.4 L828.34 367.7 L830.85 390.2 L833.36 402.8 L835.87 425.4 L838.38 441.4 L840.89 443.8 L843.40 425.9 L845.91 424.7 L848.42 440.9 L850.93 415.6 L853.44 396.1 L855.95 392.7 L858.46 372.2 L860.97 388.6 L863.48 406.6 L865.99 402.3 L868.50 382.2 L871.01 398.6 L873.52 435.9 L876.03 389.9 L878.54 376.0 L881.05 356.0 L883.56 377.7 L886.07 392.7 L888.58 348.8 L891.09 351.8 L893.60 336.4 L896.11 392.2 L898.62 363.1 L901.13 390.2 L903.64 409.5 L906.15 414.0 L908.66 396.1 L911.17 442.6 L913.68 443.8 L916.19 456.5 L918.70 461.5 L921.21 479.4 L923.72 471.5 L926.23 478.5 L928.74 479.9 L931.25 468.2 L933.76 476.5 L936.27 478.2 L938.78 486.1 L941.29 459.3 L943.80 457.6 L946.31 467.7 L948.82 429.7 L951.33 403.6 L953.84 425.4" stroke="#e03030" stroke-width="1" fill="none"/><g fill="#e01010"><circle cx="40.20" cy="350.2" r="2.4"/><circle cx="42.71" cy="398.4" r="2.4"/><circle cx="45.22" cy="390.0" r="2.4"/><circle cx="47.73" cy="374.1" r="2.4"/><circle cx="50.24" cy="385.0" r="2.4"/><circle cx="52.75" cy="360.2" r="2.4"/><circle cx="55.26" cy="361.1" r="2.4"/><circle cx="57.77" cy="343.5" r="2.4"/><circle cx="60.28" cy="333.5" r="2.4"/><circle cx="62.79" cy="320.6" r="2.4"/><circle cx="65.30" cy="336.0" r="2.4"/><circle cx="67.81" cy="358.6" r="2.4"/><circle cx="70.32" cy="331.8" r="2.4"/><circle cx="72.83" cy="331.0" r="2.4"/><circle cx="75.34" cy="423.5" r="2.4"/><circle cx="77.85" cy="408.4" r="2.4"/><circle cx="80.36" cy="333.5" r="2.4"/><circle cx="82.87" cy="321.3" r="2.4"/><circle cx="85.38" cy="308.9" r="2.4"/><circle cx="87.89" cy="334.3" r="2.4"/><circle cx="90.40" cy="345.2" r="2.4"/><circle cx="92.91" cy="393.4" r="2.4"/><circle cx="95.42" cy="430.1" r="2.4"/><circle cx="97.93" cy="478.4" r="2.4"/><circle cx="100.44" cy="478.4" r="2.4"/><circle cx="102.95" cy="477.6" r="2.4"/><circle cx="105.46" cy="445.2" r="2.4"/><circle cx="107.97" cy="406.7" r="2.4"/><circle cx="110.48" cy="378.6" r="2.4"/><circle cx="112.99" cy="377.0" r="2.4"/><circle cx="115.50" cy="437.7" r="2.4"/><circle cx="118.01" cy="421.0" r="2.4"/><circle cx="120.52" cy="400.0" r="2.4"/><circle cx="123.03" cy="380.3" r="2.4"/><circle cx="125.54" cy="367.8" r="2.4"/><circle cx="128.05" cy="357.7" r="2.4"/><circle cx="130.56" cy="412.6" r="2.4"/><circle cx="133.07" cy="400.9" r="2.4"/><circle cx="135.58" cy="387.8" r="2.4"/><circle cx="138.09" cy="346.0" r="2.4"/><circle cx="140.60" cy="401.7" r="2.4"/><circle cx="143.11" cy="366.1" r="2.4"/><circle cx="145.62" cy="377.8" r="2.4"/><circle cx="148.13" cy="361.9" r="2.4"/><circle cx="150.64" cy="398.4" r="2.4"/><circle cx="153.15" cy="342.7" r="2.4"/><circle cx="155.66" cy="323.4" r="2.4"/><circle cx="158.17" cy="382.8" r="2.4"/><circle cx="160.68" cy="367.8" r="2.4"/><circle cx="163.19" cy="338.5" r="2.4"/><circle cx="165.70" cy="340.2" r="2.4"/><circle cx="168.21" cy="338.5" r="2.4"/><circle cx="170.72" cy="313.4" r="2.4"/><circle cx="173.23" cy="317.1" r="2.4"/><circle cx="175.74" cy="345.2" r="2.4"/><circle cx="178.25" cy="385.3" r="2.4"/><circle cx="180.76" cy="386.6" r="2.4"/><circle cx="183.27" cy="372.8" r="2.4"/><circle cx="185.78" cy="331.0" r="2.4"/><circle cx="188.29" cy="361.9" r="2.4"/><circle cx="190.80" cy="355.2" r="2.4"/><circle cx="193.31" cy="336.0" r="2.4"/><circle cx="195.82" cy="295.6" r="2.4"/><circle cx="198.33" cy="350.2" r="2.4"/><circle cx="200.84" cy="333.2" r="2.4"/><circle cx="203.35" cy="362.8" r="2.4"/><circle cx="205.86" cy="333.2" r="2.4"/><circle cx="208.37" cy="345.2" r="2.4"/><circle cx="210.88" cy="361.6" r="2.4"/><circle cx="213.39" cy="348.9" r="2.4"/><circle cx="215.90" cy="338.9" r="2.4"/><circle cx="218.41" cy="294.7" r="2.4"/><circle cx="220.92" cy="284.2" r="2.4"/><circle cx="223.43" cy="290.9" r="2.4"/><circle cx="225.94" cy="295.1" r="2.4"/><circle cx="228.45" cy="343.9" r="2.4"/><circle cx="230.96" cy="315.1" r="2.4"/><circle cx="233.47" cy="406.0" r="2.4"/><circle cx="235.98" cy="409.8" r="2.4"/><circle cx="238.49" cy="388.7" r="2.4"/><circle cx="241.00" cy="405.1" r="2.4"/><circle cx="243.51" cy="434.4" r="2.4"/><circle cx="246.02" cy="396.8" r="2.4"/><circle cx="248.53" cy="343.2" r="2.4"/><circle cx="251.04" cy="295.4" r="2.4"/><circle cx="253.55" cy="311.0" r="2.4"/><circle cx="256.06" cy="320.1" r="2.4"/><circle cx="258.57" cy="299.2" r="2.4"/><circle cx="261.08" cy="289.2" r="2.4"/><circle cx="263.59" cy="356.1" r="2.4"/><circle cx="266.10" cy="302.6" r="2.4"/><circle cx="268.61" cy="276.6" r="2.4"/><circle cx="271.12" cy="293.4" r="2.4"/><circle cx="273.63" cy="381.7" r="2.4"/><circle cx="276.14" cy="316.0" r="2.4"/><circle cx="278.65" cy="267.3" r="2.4"/><circle cx="281.16" cy="260.6" r="2.4"/><circle cx="283.67" cy="298.4" r="2.4"/><circle cx="286.18" cy="261.6" r="2.4"/><circle cx="288.69" cy="246.0" r="2.4"/><circle cx="291.20" cy="241.9" r="2.4"/><circle cx="293.71" cy="212.1" r="2.4"/><circle cx="296.22" cy="194.7" r="2.4"/><circle cx="298.73" cy="193.4" r="2.4"/><circle cx="301.24" cy="197.1" r="2.4"/><circle cx="303.75" cy="216.0" r="2.4"/><circle cx="306.26" cy="210.9" r="2.4"/><circle cx="308.77" cy="304.8" r="2.4"/><circle cx="311.28" cy="253.1" r="2.4"/><circle cx="313.79" cy="239.9" r="2.4"/><circle cx="316.30" cy="230.5" r="2.4"/><circle cx="318.81" cy="219.3" r="2.4"/><circle cx="321.32" cy="207.6" r="2.4"/><circle cx="323.83" cy="211.8" r="2.4"/><circle cx="326.34" cy="190.9" r="2.4"/><circle cx="328.85" cy="200.9" r="2.4"/><circle cx="331.36" cy="198.7" r="2.4"/><circle cx="333.87" cy="198.1" r="2.4"/><circle cx="336.38" cy="198.1" r="2.4"/><circle cx="338.89" cy="233.5" r="2.4"/><circle cx="341.40" cy="227.7" r="2.4"/><circle cx="343.91" cy="233.2" r="2.4"/><circle cx="346.42" cy="246.0" r="2.4"/><circle cx="348.93" cy="266.7" r="2.4"/><circle cx="351.44" cy="325.7" r="2.4"/><circle cx="353.95" cy="283.5" r="2.4"/><circle cx="356.46" cy="296.1" r="2.4"/><circle cx="358.97" cy="282.7" r="2.4"/><circle cx="361.48" cy="273.5" r="2.4"/><circle cx="363.99" cy="221.1" r="2.4"/><circle cx="366.50" cy="250.4" r="2.4"/><circle cx="369.01" cy="237.5" r="2.4"/><circle cx="371.52" cy="183.2" r="2.4"/><circle cx="374.03" cy="225.6" r="2.4"/><circle cx="376.54" cy="327.5" r="2.4"/><circle cx="379.05" cy="279.7" r="2.4"/><circle cx="381.56" cy="334.0" r="2.4"/><circle cx="384.07" cy="253.8" r="2.4"/><circle cx="386.58" cy="197.7" r="2.4"/><circle cx="389.09" cy="171.0" r="2.4"/><circle cx="391.60" cy="163.1" r="2.4"/><circle cx="394.11" cy="201.1" r="2.4"/><circle cx="396.62" cy="168.1" r="2.4"/><circle cx="399.13" cy="173.5" r="2.4"/><circle cx="401.64" cy="174.3" r="2.4"/><circle cx="404.15" cy="175.2" r="2.4"/><circle cx="406.66" cy="242.6" r="2.4"/><circle cx="409.17" cy="325.6" r="2.4"/><circle cx="411.68" cy="371.8" r="2.4"/><circle cx="414.19" cy="278.2" r="2.4"/><circle cx="416.70" cy="241.7" r="2.4"/><circle cx="419.21" cy="313.1" r="2.4"/><circle cx="421.72" cy="302.0" r="2.4"/><circle cx="424.23" cy="221.6" r="2.4"/><circle cx="426.74" cy="201.1" r="2.4"/><circle cx="429.25" cy="196.9" r="2.4"/><circle cx="431.76" cy="206.6" r="2.4"/><circle cx="434.27" cy="202.7" r="2.4"/><circle cx="436.78" cy="189.9" r="2.4"/><circle cx="439.29" cy="195.5" r="2.4"/><circle cx="441.80" cy="176.0" r="2.4"/><circle cx="444.31" cy="221.6" r="2.4"/><circle cx="446.82" cy="198.6" r="2.4"/><circle cx="449.33" cy="197.2" r="2.4"/><circle cx="451.84" cy="159.3" r="2.4"/><circle cx="454.35" cy="242.6" r="2.4"/><circle cx="456.86" cy="230.6" r="2.4"/><circle cx="459.37" cy="193.9" r="2.4"/><circle cx="461.88" cy="189.9" r="2.4"/><circle cx="464.39" cy="153.1" r="2.4"/><circle cx="466.90" cy="149.2" r="2.4"/><circle cx="469.41" cy="237.0" r="2.4"/><circle cx="471.92" cy="262.6" r="2.4"/><circle cx="474.43" cy="246.7" r="2.4"/><circle cx="476.94" cy="209.9" r="2.4"/><circle cx="479.45" cy="237.5" r="2.4"/><circle cx="481.96" cy="281.5" r="2.4"/><circle cx="484.47" cy="293.2" r="2.4"/><circle cx="486.98" cy="271.5" r="2.4"/><circle cx="489.49" cy="239.2" r="2.4"/><circle cx="492.00" cy="227.8" r="2.4"/><circle cx="494.51" cy="182.2" r="2.4"/><circle cx="497.02" cy="275.2" r="2.4"/><circle cx="499.53" cy="258.3" r="2.4"/><circle cx="502.04" cy="293.3" r="2.4"/><circle cx="504.55" cy="301.8" r="2.4"/><circle cx="507.06" cy="251.0" r="2.4"/><circle cx="509.57" cy="205.9" r="2.4"/><circle cx="512.08" cy="230.5" r="2.4"/><circle cx="514.59" cy="284.5" r="2.4"/><circle cx="517.10" cy="297.0" r="2.4"/><circle cx="519.61" cy="287.3" r="2.4"/><circle cx="522.12" cy="243.8" r="2.4"/><circle cx="524.63" cy="188.3" r="2.4"/><circle cx="527.14" cy="162.7" r="2.4"/><circle cx="529.65" cy="121.8" r="2.4"/><circle cx="532.16" cy="110.9" r="2.4"/><circle cx="534.67" cy="160.2" r="2.4"/><circle cx="537.18" cy="176.1" r="2.4"/><circle cx="539.69" cy="167.2" r="2.4"/><circle cx="542.20" cy="161.0" r="2.4"/><circle cx="544.71" cy="211.7" r="2.4"/><circle cx="547.22" cy="226.8" r="2.4"/><circle cx="549.73" cy="179.9" r="2.4"/><circle cx="552.24" cy="260.6" r="2.4"/><circle cx="554.75" cy="210.9" r="2.4"/><circle cx="557.26" cy="190.6" r="2.4"/><circle cx="559.77" cy="193.7" r="2.4"/><circle cx="562.28" cy="203.7" r="2.4"/><circle cx="564.79" cy="219.3" r="2.4"/><circle cx="567.30" cy="258.2" r="2.4"/><circle cx="569.81" cy="235.5" r="2.4"/><circle cx="572.32" cy="209.2" r="2.4"/><circle cx="574.83" cy="235.5" r="2.4"/><circle cx="577.34" cy="250.5" r="2.4"/><circle cx="579.85" cy="203.7" r="2.4"/><circle cx="582.36" cy="175.3" r="2.4"/><circle cx="584.87" cy="159.4" r="2.4"/><circle cx="587.38" cy="256.9" r="2.4"/><circle cx="589.89" cy="286.1" r="2.4"/><circle cx="592.40" cy="310.9" r="2.4"/><circle cx="594.91" cy="275.6" r="2.4"/><circle cx="597.42" cy="261.9" r="2.4"/><circle cx="599.93" cy="210.9" r="2.4"/><circle cx="602.44" cy="196.8" r="2.4"/><circle cx="604.95" cy="188.6" r="2.4"/><circle cx="607.46" cy="161.0" r="2.4"/><circle cx="609.97" cy="233.8" r="2.4"/><circle cx="612.48" cy="252.7" r="2.4"/><circle cx="614.99" cy="228.1" r="2.4"/><circle cx="617.50" cy="223.8" r="2.4"/><circle cx="620.01" cy="271.6" r="2.4"/><circle cx="622.52" cy="266.6" r="2.4"/><circle cx="625.03" cy="242.7" r="2.4"/><circle cx="627.54" cy="220.9" r="2.4"/><circle cx="630.05" cy="196.6" r="2.4"/><circle cx="632.56" cy="181.1" r="2.4"/><circle cx="635.07" cy="182.0" r="2.4"/><circle cx="637.58" cy="195.8" r="2.4"/><circle cx="640.09" cy="222.6" r="2.4"/><circle cx="642.60" cy="265.2" r="2.4"/><circle cx="645.11" cy="263.6" r="2.4"/><circle cx="647.62" cy="248.5" r="2.4"/><circle cx="650.13" cy="258.9" r="2.4"/><circle cx="652.64" cy="228.8" r="2.4"/><circle cx="655.15" cy="262.4" r="2.4"/><circle cx="657.66" cy="298.0" r="2.4"/><circle cx="660.17" cy="312.2" r="2.4"/><circle cx="662.68" cy="291.5" r="2.4"/><circle cx="665.19" cy="276.4" r="2.4"/><circle cx="667.70" cy="260.3" r="2.4"/><circle cx="670.21" cy="258.3" r="2.4"/><circle cx="672.72" cy="271.4" r="2.4"/><circle cx="675.23" cy="293.5" r="2.4"/><circle cx="677.74" cy="251.6" r="2.4"/><circle cx="680.25" cy="235.6" r="2.4"/><circle cx="682.76" cy="221.0" r="2.4"/><circle cx="685.27" cy="228.2" r="2.4"/><circle cx="687.78" cy="241.6" r="2.4"/><circle cx="690.29" cy="201.0" r="2.4"/><circle cx="692.80" cy="300.1" r="2.4"/><circle cx="695.31" cy="295.1" r="2.4"/><circle cx="697.82" cy="281.4" r="2.4"/><circle cx="700.33" cy="248.6" r="2.4"/><circle cx="702.84" cy="237.8" r="2.4"/><circle cx="705.35" cy="216.9" r="2.4"/><circle cx="707.86" cy="220.5" r="2.4"/><circle cx="710.37" cy="306.5" r="2.4"/><circle cx="712.88" cy="353.7" r="2.4"/><circle cx="715.39" cy="326.1" r="2.4"/><circle cx="717.90" cy="326.9" r="2.4"/><circle cx="720.41" cy="272.6" r="2.4"/><circle cx="722.92" cy="278.4" r="2.4"/><circle cx="725.43" cy="237.8" r="2.4"/><circle cx="727.94" cy="249.5" r="2.4"/><circle cx="730.45" cy="223.9" r="2.4"/><circle cx="732.96" cy="248.3" r="2.4"/><circle cx="735.47" cy="247.0" r="2.4"/><circle cx="737.98" cy="277.6" r="2.4"/><circle cx="740.49" cy="278.4" r="2.4"/><circle cx="743.00" cy="272.6" r="2.4"/><circle cx="745.51" cy="285.0" r="2.4"/><circle cx="748.02" cy="281.0" r="2.4"/><circle cx="750.53" cy="292.6" r="2.4"/><circle cx="753.04" cy="301.0" r="2.4"/><circle cx="755.55" cy="288.4" r="2.4"/><circle cx="758.06" cy="358.7" r="2.4"/><circle cx="760.57" cy="308.2" r="2.4"/><circle cx="763.08" cy="277.6" r="2.4"/><circle cx="765.59" cy="270.9" r="2.4"/><circle cx="768.10" cy="328.6" r="2.4"/><circle cx="770.61" cy="346.1" r="2.4"/><circle cx="773.12" cy="378.1" r="2.4"/><circle cx="775.63" cy="407.7" r="2.4"/><circle cx="778.14" cy="393.1" r="2.4"/><circle cx="780.65" cy="406.9" r="2.4"/><circle cx="783.16" cy="369.2" r="2.4"/><circle cx="785.67" cy="356.2" r="2.4"/><circle cx="788.18" cy="353.7" r="2.4"/><circle cx="790.69" cy="365.9" r="2.4"/><circle cx="793.20" cy="350.3" r="2.4"/><circle cx="795.71" cy="362.5" r="2.4"/><circle cx="798.22" cy="372.6" r="2.4"/><circle cx="800.73" cy="338.6" r="2.4"/><circle cx="803.24" cy="334.8" r="2.4"/><circle cx="805.75" cy="326.2" r="2.4"/><circle cx="808.26" cy="358.6" r="2.4"/><circle cx="810.77" cy="359.8" r="2.4"/><circle cx="813.28" cy="335.9" r="2.4"/><circle cx="815.79" cy="364.8" r="2.4"/><circle cx="818.30" cy="391.1" r="2.4"/><circle cx="820.81" cy="356.0" r="2.4"/><circle cx="823.32" cy="372.2" r="2.4"/><circle cx="825.83" cy="404.4" r="2.4"/><circle cx="828.34" cy="367.7" r="2.4"/><circle cx="830.85" cy="390.2" r="2.4"/><circle cx="833.36" cy="402.8" r="2.4"/><circle cx="835.87" cy="425.4" r="2.4"/><circle cx="838.38" cy="441.4" r="2.4"/><circle cx="840.89" cy="443.8" r="2.4"/><circle cx="843.40" cy="425.9" r="2.4"/><circle cx="845.91" cy="424.7" r="2.4"/><circle cx="848.42" cy="440.9" r="2.4"/><circle cx="850.93" cy="415.6" r="2.4"/><circle cx="853.44" cy="396.1" r="2.4"/><circle cx="855.95" cy="392.7" r="2.4"/><circle cx="858.46" cy="372.2" r="2.4"/><circle cx="860.97" cy="388.6" r="2.4"/><circle cx="863.48" cy="406.6" r="2.4"/><circle cx="865.99" cy="402.3" r="2.4"/><circle cx="868.50" cy="382.2" r="2.4"/><circle cx="871.01" cy="398.6" r="2.4"/><circle cx="873.52" cy="435.9" r="2.4"/><circle cx="876.03" cy="389.9" r="2.4"/><circle cx="878.54" cy="376.0" r="2.4"/><circle cx="881.05" cy="356.0" r="2.4"/><circle cx="883.56" cy="377.7" r="2.4"/><circle cx="886.07" cy="392.7" r="2.4"/><circle cx="888.58" cy="348.8" r="2.4"/><circle cx="891.09" cy="351.8" r="2.4"/><circle cx="893.60" cy="336.4" r="2.4"/><circle cx="896.11" cy="392.2" r="2.4"/><circle cx="898.62" cy="363.1" r="2.4"/><circle cx="901.13" cy="390.2" r="2.4"/><circle cx="903.64" cy="409.5" r="2.4"/><circle cx="906.15" cy="414.0" r="2.4"/><circle cx="908.66" cy="396.1" r="2.4"/><circle cx="911.17" cy="442.6" r="2.4"/><circle cx="913.68" cy="443.8" r="2.4"/><circle cx="916.19" cy="456.5" r="2.4"/><circle cx="918.70" cy="461.5" r="2.4"/><circle cx="921.21" cy="479.4" r="2.4"/><circle cx="923.72" cy="471.5" r="2.4"/><circle cx="926.23" cy="478.5" r="2.4"/><circle cx="928.74" cy="479.9" r="2.4"/><circle cx="931.25" cy="468.2" r="2.4"/><circle cx="933.76" cy="476.5" r="2.4"/><circle cx="936.27" cy="478.2" r="2.4"/><circle cx="938.78" cy="486.1" r="2.4"/><circle cx="941.29" cy="459.3" r="2.4"/><circle cx="943.80" cy="457.6" r="2.4"/><circle cx="946.31" cy="467.7" r="2.4"/><circle cx="948.82" cy="429.7" r="2.4"/><circle cx="951.33" cy="403.6" r="2.4"/><circle cx="953.84" cy="425.4" r="2.4"/></g><path d="M404 597.5H424" stroke="#2020d0" stroke-width="1"/><circle cx="414" cy="597.5" r="2.4" fill="#1010d0"/><text x="429" y="603" font-size="12">MIN</text><path d="M474 597.5H494" stroke="#e02020" stroke-width="1"/><circle cx="484" cy="597.5" r="2.4" fill="#e01010"/><text x="499" y="603" font-size="12">MAX</text><rect x="543" y="591.5" width="19" height="13" fill="#00ee00" stroke="#1a6a1a" stroke-width="1"/><text x="568" y="603" font-size="12">mm</text></svg></body></html>
